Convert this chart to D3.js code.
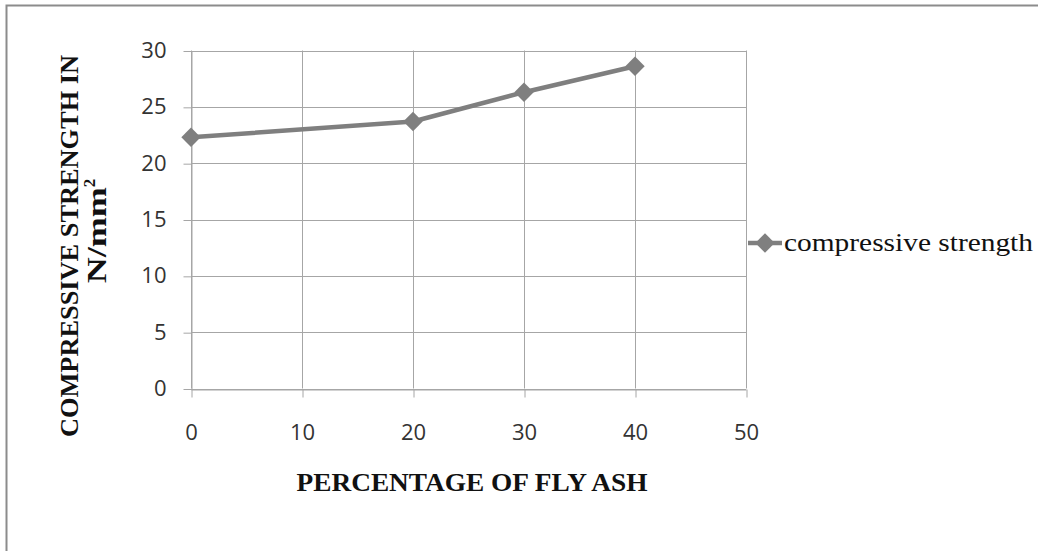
<!DOCTYPE html>
<html>
<head>
<meta charset="utf-8">
<script src="https://cdn.jsdelivr.net/npm/d3@7/dist/d3.min.js"></script>
<style>
  html, body { margin: 0; padding: 0; background: #fff; }
  svg { display: block; }
</style>
</head>
<body>
<svg id="chart" width="1038" height="551"></svg>
<script>
// Fly ash content (%) and measured compressive strength (N/mm²)
const flyAsh = [0, 20, 30, 40];
const strength = [22.3, 23.7, 26.3, 28.6];
const xTicks = [0, 10, 20, 30, 40, 50];
const yTicks = [0, 5, 10, 15, 20, 25, 30];
const seriesName = "compressive strength";
const xTitle = "PERCENTAGE OF FLY ASH";
const yTitleLines = ["COMPRESSIVE STRENGTH IN", "N/mm"];

const svg = d3.select("#chart");
const gridColor = "#a6a6a6";
const lineColor = "#7f7f7f";

// Outer chart frame
svg.append("rect")
  .attr("x", 6.5).attr("y", 5.5)
  .attr("width", 1040).attr("height", 560)
  .attr("fill", "none").attr("stroke", "#8c8c8c").attr("stroke-width", 2);

const x = d3.scaleLinear().domain([0, 50]).range([191, 746]);
const y = d3.scaleLinear().domain([0, 30]).range([388.5, 50.5]);

// Gridlines
svg.append("g").selectAll("line.h").data(yTicks).join("line")
  .attr("x1", x(0)).attr("x2", x(50))
  .attr("y1", d => Math.round(y(d)) + 0.5).attr("y2", d => Math.round(y(d)) + 0.5)
  .attr("stroke", gridColor).attr("stroke-width", 1);
svg.append("g").selectAll("line.v").data(xTicks).join("line")
  .attr("x1", d => Math.round(x(d)) + 0.5).attr("x2", d => Math.round(x(d)) + 0.5)
  .attr("y1", y(30)).attr("y2", y(0))
  .attr("stroke", gridColor).attr("stroke-width", 1);

// Axes
const tickFont = "'Open Sans', sans-serif";
const yAxis = svg.append("g").attr("transform", `translate(${Math.round(x(0)) + 0.5},0)`)
  .call(d3.axisLeft(y).tickValues(yTicks).tickSize(8).tickPadding(17).tickSizeOuter(0));
const xAxis = svg.append("g").attr("transform", `translate(0,${Math.round(y(0)) + 0.5})`)
  .call(d3.axisBottom(x).tickValues(xTicks).tickSize(8).tickPadding(27).tickSizeOuter(0));
[xAxis, yAxis].forEach(g => {
  g.select(".domain").attr("stroke", gridColor);
  g.selectAll(".tick line").attr("stroke", gridColor);
  g.selectAll(".tick text")
    .attr("fill", "#333")
    .style("font-family", tickFont)
    .style("font-size", "22px");
});
xAxis.selectAll(".tick line").attr("transform", "translate(0.5,0)");
yAxis.selectAll(".tick line").attr("transform", "translate(0,0.5)");

// Series line and diamond markers
const pts = flyAsh.map((v, i) => [v, strength[i]]);
svg.append("path")
  .datum(pts)
  .attr("fill", "none")
  .attr("stroke", lineColor)
  .attr("stroke-width", 4.5)
  .attr("stroke-linejoin", "round")
  .attr("d", d3.line().x(d => x(d[0])).y(d => y(d[1])));

const diamond = d3.symbol().type(d3.symbolDiamond2).size(240);
svg.append("g").selectAll("path").data(pts).join("path")
  .attr("transform", d => `translate(${x(d[0])},${y(d[1])})`)
  .attr("d", diamond)
  .attr("fill", lineColor);

// Legend
const lg = svg.append("g").attr("transform", "translate(748,243)");
lg.append("line").attr("x1", 0).attr("x2", 34).attr("y1", 0).attr("y2", 0)
  .attr("stroke", lineColor).attr("stroke-width", 4.5);
lg.append("path").attr("transform", "translate(17,0)").attr("d", diamond).attr("fill", lineColor);
lg.append("text")
  .attr("x", 36).attr("y", 8)
  .attr("textLength", 249).attr("lengthAdjust", "spacingAndGlyphs")
  .style("font-family", "'Liberation Serif', 'Times New Roman', serif")
  .style("font-size", "25px")
  .attr("fill", "#111")
  .text(seriesName);

// Axis titles
const titleFont = "'Liberation Serif', 'Times New Roman', serif";
svg.append("text")
  .attr("x", 472).attr("y", 490.5)
  .attr("text-anchor", "middle")
  .attr("textLength", 351).attr("lengthAdjust", "spacingAndGlyphs")
  .style("font-family", titleFont).style("font-size", "26px").style("font-weight", "bold")
  .attr("fill", "#111")
  .text(xTitle);

svg.append("text")
  .attr("transform", "translate(78,246) rotate(-90)")
  .attr("text-anchor", "middle")
  .attr("textLength", 382).attr("lengthAdjust", "spacingAndGlyphs")
  .style("font-family", titleFont).style("font-size", "26px").style("font-weight", "bold")
  .attr("fill", "#111")
  .text(yTitleLines[0]);

const t2 = svg.append("text")
  .attr("transform", "translate(106,231) rotate(-90)")
  .attr("text-anchor", "middle")
  .style("font-family", titleFont).style("font-size", "27px").style("font-weight", "bold")
  .attr("fill", "#111");
t2.append("tspan").attr("textLength", 96).attr("lengthAdjust", "spacingAndGlyphs").text(yTitleLines[1]);
t2.append("tspan").attr("dy", -11).style("font-size", "17px").text("2");
</script>
</body>
</html>
